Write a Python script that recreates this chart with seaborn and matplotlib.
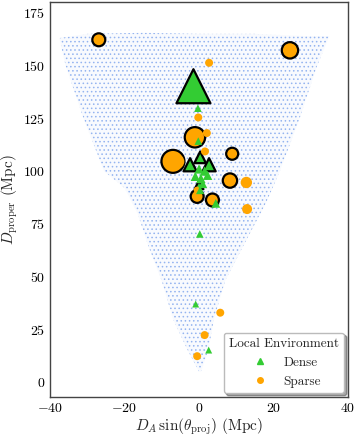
import pandas as pd
import matplotlib
matplotlib.use("Agg")
import matplotlib.pyplot as plt
import seaborn as sns
from matplotlib.lines import Line2D

# Outline of the background galaxy wedge
wedge_x = [0.0, -3.0, -7.0, -10.0, -13.5, -16.5, -20.0, -25.5, -31.0, -35.8, -37.5,
           -30.0, -15.0, 0.0, 15.0, 28.0, 35.0,
           31.7, 27.0, 21.7, 18.0, 12.0, 7.0, 4.0, 2.5, 0.5]
wedge_y = [5.0, 15.0, 30.0, 48.0, 64.0, 80.0, 92.0, 100.0, 125.0, 150.0, 163.0,
           165.0, 165.5, 165.0, 165.0, 164.0, 164.0,
           150.0, 125.0, 100.0, 85.0, 65.0, 48.0, 30.0, 15.0, 5.0]

# Dense environment galaxies
dense_x = [-1.5, -0.3, -0.2, 0.3, -2.4, 2.7, 0.0, 1.5, 2.3, 0.5, -1.0, 1.0, 0.0, 0.3, 4.5, 0.2, -0.9, 2.6]
dense_y = [140.2, 129.8, 114.2, 106.5, 103.0, 103.0, 101.0, 100.0, 98.0, 96.5, 97.5, 94.0, 93.5, 91.0, 84.7, 70.2, 37.0, 15.2]
dense_size = [600, 30, 30, 70, 90, 90, 45, 45, 45, 45, 45, 40, 40, 35, 40, 30, 25, 25]
dense_edge = [1, 0, 0, 1, 1, 1, 0, 0, 0, 0, 0, 0, 1, 0, 0, 0, 0, 0]

# Sparse environment galaxies
sparse_x = [-26.9, 24.4, 2.7, -0.2, -1.1, 2.1, 1.6, 8.9, -7.0, -5.9, 8.3, 12.7, -0.5, -0.5, 3.6, 12.9, 5.7, 1.5, -0.5]
sparse_y = [162.2, 157.2, 151.3, 125.4, 116.0, 118.0, 109.3, 108.2, 104.6, 104.5, 95.5, 94.6, 91.0, 88.0, 86.3, 82.0, 32.9, 22.3, 12.3]
sparse_size = [87, 139, 33, 33, 215, 33, 33, 75, 274, 110, 107, 67, 25, 87, 87, 52, 33, 33, 33]
sparse_edge = [1, 1, 0, 0, 1, 0, 0, 1, 1, 0, 1, 0, 0, 1, 1, 0, 0, 0, 0]

dense = pd.DataFrame({"x": dense_x, "y": dense_y, "s": dense_size, "edge": dense_edge})
sparse = pd.DataFrame({"x": sparse_x, "y": sparse_y, "s": sparse_size, "edge": sparse_edge})

green = "#33cc33"
orange = "#ffa500"

sns.set_theme(style="white")
plt.rcParams["font.family"] = "serif"
plt.rcParams["font.serif"] = ["cmr10"]
plt.rcParams["mathtext.fontset"] = "cm"
plt.rcParams["axes.formatter.use_mathtext"] = True
plt.rcParams["hatch.linewidth"] = 0.6

fig = plt.figure(figsize=(3.57, 4.42), dpi=100)
ax = fig.add_axes([0.14, 0.102, 0.835, 0.893])

# background sample drawn as a dotted wedge
ax.fill(wedge_x, wedge_y, facecolor=(0.55, 0.69, 0.94, 0.06),
        edgecolor="#94b4f0", hatch="....", linewidth=0, zorder=1)

def draw(df, marker, color, edged, z):
    sub = df[df["edge"] == edged]
    sns.scatterplot(
        data=sub, x="x", y="y", size="s",
        sizes=(0, 1000), size_norm=(0, 1000),
        marker=marker, color=color,
        edgecolor="black" if edged else color,
        linewidth=1.6 if edged else 0,
        legend=False, ax=ax, zorder=z
    )

draw(sparse, "o", orange, 1, 3)
draw(dense, "^", green, 1, 4)
draw(sparse, "o", orange, 0, 5)
draw(dense, "^", green, 0, 6)

ax.set_xlim(-40, 40)
ax.set_ylim(-7, 180)
ax.set_xticks([-40, -20, 0, 20, 40])
ax.set_xticks(range(-40, 41, 5), minor=True)
ax.set_yticks([0, 25, 50, 75, 100, 125, 150, 175])
ax.set_yticks(range(-5, 181, 5), minor=True)
ax.tick_params(which="both", direction="in", colors="#444444", labelcolor="black", labelsize=10)
ax.tick_params(which="major", length=4, width=0.8)
ax.tick_params(which="minor", length=2, width=0.6)
for sp in ax.spines.values():
    sp.set_color("#444444")
    sp.set_linewidth(1.0)

ax.set_xlabel(r"$D_A\,\sin(\theta_{\rm proj})$ (Mpc)", fontsize=11, labelpad=1)
ax.set_ylabel(r"$D_{\rm proper}$ (Mpc)", fontsize=11, labelpad=2)

handles = [
    Line2D([], [], marker="^", linestyle="", color=green, markersize=4, label="Dense"),
    Line2D([], [], marker="o", linestyle="", color=orange, markersize=4, label="Sparse"),
]
ax.legend(handles=handles, title="Local Environment", loc="lower right",
          fontsize=9.5, title_fontsize=9.5, frameon=True, fancybox=True,
          shadow=True, framealpha=1, borderaxespad=0.3, edgecolor="#bbbbbb")

fig.savefig("out.png", dpi=100)
